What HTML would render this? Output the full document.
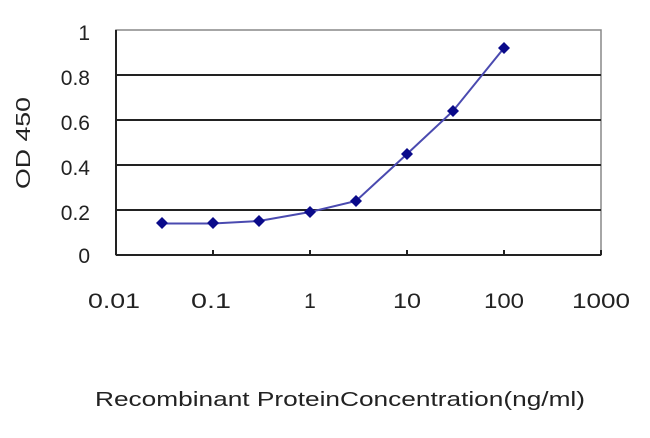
<!DOCTYPE html>
<html><head><style>body{margin:0;background:#fff}</style></head><body>
<svg width="650" height="433" xmlns="http://www.w3.org/2000/svg" font-family="Liberation Sans, sans-serif" fill="#222">
<rect x="116" y="30" width="485" height="225" fill="#fff" stroke="#888" stroke-width="1.5"/>
<g stroke="#222" stroke-width="2">
<line x1="116" y1="75" x2="601" y2="75"/><line x1="116" y1="120" x2="601" y2="120"/>
<line x1="116" y1="165" x2="601" y2="165"/><line x1="116" y1="210" x2="601" y2="210"/>
<line x1="116" y1="30" x2="116" y2="255"/><line x1="116" y1="255" x2="601" y2="255"/>
<line x1="213" y1="255" x2="213" y2="250"/><line x1="310" y1="255" x2="310" y2="250"/><line x1="407" y1="255" x2="407" y2="250"/><line x1="504" y1="255" x2="504" y2="250"/><line x1="601" y1="255" x2="601" y2="250"/>
</g>
<g font-size="21" text-anchor="end">
<text x="90" y="40">1</text><text x="90" y="85">0.8</text><text x="90" y="130">0.6</text><text x="90" y="175">0.4</text><text x="90" y="220">0.2</text><text x="90" y="263">0</text>
</g>
<g font-size="21" text-anchor="middle">
<text x="114" y="308" textLength="52" lengthAdjust="spacingAndGlyphs">0.01</text><text x="211" y="308" textLength="40" lengthAdjust="spacingAndGlyphs">0.1</text><text x="310" y="308">1</text><text x="407" y="308" textLength="28" lengthAdjust="spacingAndGlyphs">10</text><text x="504" y="308" textLength="40" lengthAdjust="spacingAndGlyphs">100</text><text x="601" y="308" textLength="58" lengthAdjust="spacingAndGlyphs">1000</text>
</g>
<text transform="translate(30,143) rotate(-90)" font-size="20" text-anchor="middle" textLength="92" lengthAdjust="spacingAndGlyphs">OD 450</text>
<text x="340" y="406" font-size="20" text-anchor="middle" textLength="490" lengthAdjust="spacingAndGlyphs">Recombinant ProteinConcentration(ng/ml)</text>
<polyline fill="none" stroke="#4a4ab0" stroke-width="2" points="162,223.5 213,223.5 259,221 310,212 356,201 407,154 453,111 504,48"/>
<g fill="#0a0a8a">
<path d="M162,217l6,6l-6,6l-6,-6z"/><path d="M213,217l6,6l-6,6l-6,-6z"/><path d="M259,215l6,6l-6,6l-6,-6z"/><path d="M310,206l6,6l-6,6l-6,-6z"/><path d="M356,195l6,6l-6,6l-6,-6z"/><path d="M407,148l6,6l-6,6l-6,-6z"/><path d="M453,105l6,6l-6,6l-6,-6z"/><path d="M504,42l6,6l-6,6l-6,-6z"/>
</g>
</svg>
</body></html>
